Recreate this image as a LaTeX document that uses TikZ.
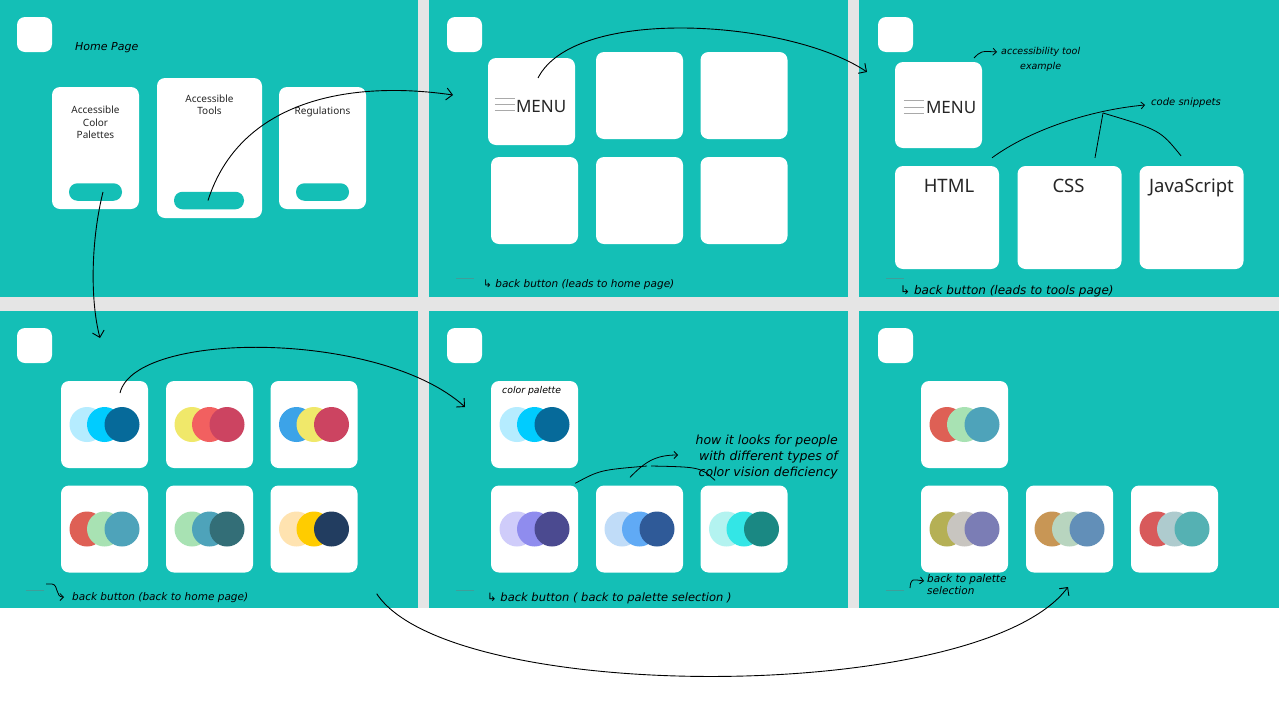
\documentclass[tikz,border=0pt]{standalone}
\usepackage{fontspec}
\setmainfont{Noto Sans}
\newfontfamily\handfont{DejaVu Sans}
\usetikzlibrary{arrows.meta}

\definecolor{tealbg}{HTML}{14BFB6}
\definecolor{gapgray}{HTML}{E5E5E5}
\definecolor{backline}{HTML}{3F9E99}
\definecolor{menuline}{HTML}{A9A9A9}
% palettes
\definecolor{skyA}{HTML}{B5ECFF}\definecolor{skyB}{HTML}{00CCFF}\definecolor{skyC}{HTML}{066A9A}
\definecolor{sunA}{HTML}{F0E86A}\definecolor{sunB}{HTML}{F26060}\definecolor{sunC}{HTML}{CC4461}
\definecolor{mixA}{HTML}{3CA3E8}
\definecolor{seaA}{HTML}{DE6055}\definecolor{seaB}{HTML}{A8E2B3}\definecolor{seaC}{HTML}{4EA3BA}
\definecolor{pineC}{HTML}{336E77}
\definecolor{sandA}{HTML}{FFE3B0}\definecolor{sandB}{HTML}{FFCC00}\definecolor{sandC}{HTML}{223D60}
% colour vision deficiency views
\definecolor{cvdAa}{HTML}{CFCCFA}\definecolor{cvdAb}{HTML}{8F8CEE}\definecolor{cvdAc}{HTML}{4B4A90}
\definecolor{cvdBa}{HTML}{C0DCF8}\definecolor{cvdBb}{HTML}{60AAF5}\definecolor{cvdBc}{HTML}{2F5A98}
\definecolor{cvdCa}{HTML}{B3F3F0}\definecolor{cvdCb}{HTML}{33E6E6}\definecolor{cvdCc}{HTML}{1A8883}
\definecolor{simAa}{HTML}{B5B055}\definecolor{simAb}{HTML}{C8C5C0}\definecolor{simAc}{HTML}{7B7DB5}
\definecolor{simBa}{HTML}{C89655}\definecolor{simBb}{HTML}{B8D5BF}\definecolor{simBc}{HTML}{628FB8}
\definecolor{simCa}{HTML}{D85A5B}\definecolor{simCb}{HTML}{AECBCE}\definecolor{simCc}{HTML}{55B1B3}

\begin{document}
\begin{tikzpicture}
[x=1pt,y=-1pt,
 card/.style={fill=white,rounded corners=8pt,inner sep=0pt,minimum width=87pt,minimum height=87pt},
 iconbox/.style={card,minimum width=35pt,minimum height=35pt},
 pill/.style={fill=tealbg,rounded corners=8.5pt,inner sep=0pt,minimum height=17.5pt},
 cardtext/.style={inner sep=0pt,align=center,font=\fontsize{10}{12.5}\selectfont,text=black!85},
 bigtext/.style={inner sep=0pt,font=\fontsize{17}{20}\selectfont,text=black!85},
 note/.style={inner sep=0pt,font=\handfont\itshape\fontsize{10.5}{12}\selectfont,text=black},
 flow/.style={draw=black,line width=0.9pt,-{Straight Barb[length=6pt,width=12pt]}},
 hint/.style={draw=black,line width=0.8pt},
 hintarrow/.style={hint,-{Straight Barb[length=3.5pt,width=7pt]}}]

  \useasboundingbox (0,0) rectangle (1279,702);
  \fill[white] (0,0) rectangle (1279,702);
  \fill[gapgray] (0,0) rectangle (1279,608);
  \foreach \xa/\xb in {0/418,429/848,859/1279}
    \foreach \ya/\yb in {0/297,311/608}
      \fill[tealbg] (\xa,\ya) rectangle (\xb,\yb);

  % corner icons
  \foreach \nm/\cx/\cy in {icon1/34.5/34.5,icon2/464.5/34.5,icon3/895.5/34.5,
                           icon4/34.5/345.5,icon5/464.5/345.5,icon6/895.5/345.5}
    \node[iconbox] (\nm) at (\cx,\cy) {};

  % home page
  \node[anchor=west,note,font=\handfont\itshape\fontsize{11}{13}\selectfont] (homeTitle) at (75,48) {Home Page};
  \node[card,minimum height=122pt] (homeA) at (95.5,148) {};
  \node[card,minimum width=105pt,minimum height=140pt] (homeB) at (209.5,148) {};
  \node[card,minimum height=122pt] (homeC) at (322.5,148) {};
  \node[cardtext,anchor=north] (homeAtxt) at ([yshift=-19pt]homeA.north) {Accessible\\Color\\Palettes};
  \node[cardtext,anchor=north] (homeBtxt) at ([yshift=-16.5pt]homeB.north) {Accessible\\Tools};
  \node[cardtext,anchor=north] (homeCtxt) at ([yshift=-19.5pt]homeC.north) {Regulations};
  \node[pill,minimum width=53pt] (btnA) at (95.5,192) {};
  \node[pill,minimum width=70pt] (btnB) at (209,200.5) {};
  \node[pill,minimum width=53pt] (btnC) at (322.5,192) {};

  % tools page
  \node[card] (menuA) at (531.5,101.5) {};
  \node[card] (toolB) at (639.5,95.5) {};
  \node[card] (toolC) at (744,95.5) {};
  \node[card] (toolD) at (534.5,200.5) {};
  \node[card] (toolE) at (639.5,200.5) {};
  \node[card] (toolF) at (744,200.5) {};
  \node[bigtext,anchor=base west] (menuAtxt) at ([xshift=28pt,yshift=-10.5pt]menuA.west) {MENU};
  \foreach \dy in {-3.5,2.5,8.5}
    \draw[menuline,line width=0.8pt] ([xshift=7pt,yshift=-\dy pt]menuA.west) -- ++(20,0);
  \draw[backline,line width=0.8pt] (456,278) -- (474,278);
  \node[note,anchor=west] (back2) at (483,285) {↳ back button (leads to home page)};

  % tool example page
  \node[card,minimum height=86pt] (menuB) at (938.5,105) {};
  \node[bigtext,anchor=base west] (menuBtxt) at ([xshift=31pt,yshift=-8pt]menuB.west) {MENU};
  \foreach \dy in {-5,2,8}
    \draw[menuline,line width=0.8pt] ([xshift=9pt,yshift=-\dy pt]menuB.west) -- ++(20,0);
  \node[card,minimum width=104pt,minimum height=103pt] (html) at (947,217.5) {};
  \node[card,minimum width=104pt,minimum height=103pt] (css) at (1069.5,217.5) {};
  \node[card,minimum width=104pt,minimum height=103pt] (js) at (1191.5,217.5) {};
  \node[bigtext,anchor=north,font=\fontsize{18.5}{20}\selectfont] (htmltxt) at ([xshift=2pt,yshift=-13pt]html.north) {HTML};
  \node[bigtext,anchor=north,font=\fontsize{18.5}{20}\selectfont] (csstxt) at ([xshift=-1pt,yshift=-13pt]css.north) {CSS};
  \node[bigtext,anchor=north,font=\fontsize{18.5}{20}\selectfont] (jstxt) at ([yshift=-13pt]js.north) {JavaScript};
  \coordinate (toolTail) at (974,58);
  \coordinate (toolTip) at (997,52);
  \draw[hintarrow] (toolTail) .. controls (981,51) .. (toolTip);
  \node[note,align=center,anchor=north west,font=\handfont\itshape\fontsize{9.5}{15}\selectfont] (toolNote) at (1001,47) {accessibility tool\\example};
  \coordinate (snipJoin) at (1103,113);
  \coordinate (snipTip) at (1145,105);
  \draw[hintarrow] ([xshift=45pt,yshift=8pt]html.north) .. controls (1030,130) and (1090,110) .. (snipTip);
  \draw[hint] ([xshift=25.5pt,yshift=8pt]css.north) -- (snipJoin);
  \draw[hint] ([xshift=-10.5pt,yshift=10pt]js.north) .. controls (1160,130) .. (snipJoin);
  \node[note,anchor=west,font=\handfont\itshape\fontsize{10}{12}\selectfont] (snipNote) at (1151,103) {code snippets};
  \draw[backline,line width=0.8pt] (886,278) -- (904,278);
  \node[note,anchor=west,font=\handfont\itshape\fontsize{12}{14}\selectfont] (back3) at (900,291) {↳ back button (leads to tools page)};

  % palette selection
  \foreach \nm/\cx/\cy/\ca/\cb/\cc in {
      palA/104.5/424.5/skyA/skyB/skyC, palB/209.5/424.5/sunA/sunB/sunC,
      palC/314/424.5/mixA/sunA/sunC, palD/104.5/529/seaA/seaB/seaC,
      palE/209.5/529/seaB/seaC/pineC, palF/314/529/sandA/sandB/sandC,
      chosen/534.5/424.5/skyA/skyB/skyC,
      cvdA/534.5/529/cvdAa/cvdAb/cvdAc, cvdB/639.5/529/cvdBa/cvdBb/cvdBc,
      cvdC/744/529/cvdCa/cvdCb/cvdCc,
      simTop/964.5/424.5/seaA/seaB/seaC,
      simA/964.5/529/simAa/simAb/simAc, simB/1069.5/529/simBa/simBb/simBc,
      simC/1174.5/529/simCa/simCb/simCc}
  {
    \node[card] (\nm) at (\cx,\cy) {};
    \fill[\ca] (\cx-17.5,\cy) circle (17.5pt);
    \fill[\cb] (\cx,\cy) circle (17.5pt);
    \fill[\cc] (\cx+17.5,\cy) circle (17.5pt);
  }
  \draw[backline,line width=0.8pt] (26,590) -- (44,590);
  \coordinate (back4tail) at (46,584);
  \coordinate (back4tip) at (64,597);
  \draw[hintarrow] (back4tail) -- (52,584) .. controls (59,585) and (55,597) .. (back4tip);
  \node[note,anchor=west] (back4) at (72,598) {back button (back to home page)};

  % chosen palette
  \node[note,anchor=west,font=\handfont\itshape\fontsize{9.3}{11}\selectfont] (chosenNote) at (502,391) {color palette};
  \coordinate (cvdJoin) at (647,466);
  \coordinate (cvdTip) at (678,455);
  \draw[hint] ([shift={(-3,-2)}]cvdA.north east) .. controls (600,470) .. (cvdJoin);
  \draw[hint] ([xshift=-29pt,yshift=5pt]cvdC.north) .. controls (700,467) .. ([xshift=4pt]cvdJoin);
  \draw[hintarrow] ([xshift=-9.5pt,yshift=8pt]cvdB.north) .. controls (645,462) and (655,455) .. (cvdTip);
  \node[note,align=right,anchor=east,font=\handfont\itshape\fontsize{12.5}{16}\selectfont] (cvdNote) at (838,457) {how it looks for people\\with different types of\\color vision deficiency};
  \draw[backline,line width=0.8pt] (456,590) -- (474,590);
  \node[note,anchor=west,font=\handfont\itshape\fontsize{11.5}{13}\selectfont] (back5) at (487,598) {↳ back button ( back to palette selection )};

  % simulated palettes
  \draw[backline,line width=0.8pt] (886,590) -- (904,590);
  \coordinate (back6tail) at (910,588);
  \coordinate (back6tip) at (924,581);
  \draw[hintarrow] (back6tail) .. controls (911,579) .. (back6tip);
  \node[note,align=left,anchor=north west,font=\handfont\itshape\fontsize{10.5}{12}\selectfont] (back6) at (927,574) {back to palette\\selection};

  % page flow
  \coordinate (palIn) at (100,338);
  \coordinate (toolsIn) at (453,95);
  \coordinate (exampleIn) at (867,72);
  \coordinate (chosenIn) at (465,407);
  \coordinate (simIn) at (1068,587);
  \draw[flow] ([xshift=7.5pt]btnA.center) .. controls (91,240) and (90,300) .. (palIn);
  \draw[flow] ([xshift=-1pt]btnB.center) .. controls (240,100) and (350,80) .. (toolsIn);
  \draw[flow] ([xshift=6.5pt,yshift=23.5pt]menuA.center) .. controls (575,5) and (790,20) .. (exampleIn);
  \draw[flow] ([xshift=15.5pt,yshift=31.5pt]palA.center) .. controls (135,330) and (380,330) .. (chosenIn);
  \draw[flow] ([shift={(19,21)}]palF.south east) .. controls (450,705) and (980,705) .. (simIn);
\end{tikzpicture}
\end{document}
